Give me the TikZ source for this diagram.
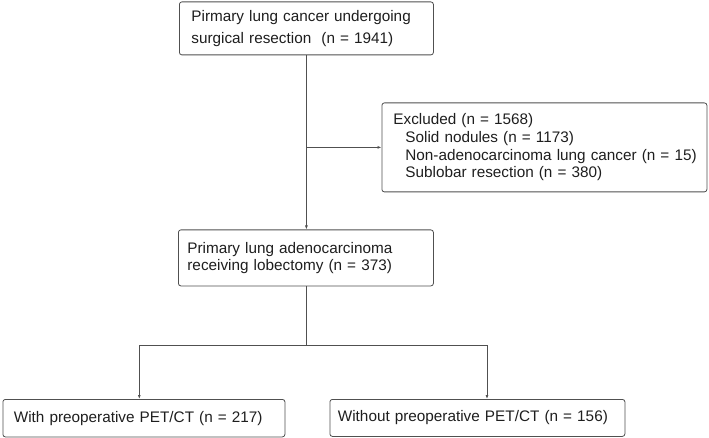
\documentclass[tikz,border=0pt]{standalone}
\usepackage{fontspec}
\setmainfont{Liberation Sans}
\usetikzlibrary{arrows.meta}
\definecolor{linegray}{HTML}{505050}
\definecolor{textgray}{HTML}{1E1E1E}

\begin{document}
\begin{tikzpicture}[x=1pt, y=-1pt]
	\tikzstyle{box} = [ draw=linegray, line width=0.8pt, rounded corners=2.5pt, anchor=north west, align=left, inner ysep=0pt, text=textgray, font={\fontsize{15.3}{17.6}\selectfont} ];
	\tikzstyle{point} = [ ->, >={Latex[length=4pt, width=3pt]}, draw=linegray, line width=0.8pt ];
	\tikzstyle{link} = [ draw=linegray, line width=0.8pt ];

	\useasboundingbox (0,0) rectangle (709,438);

	\def \ind {\hspace*{12pt}}

	% boxes
	\node[box, inner xsep=12pt, text width=230pt, minimum height=53pt] (surgery) at (179,1.5) {Pirmary lung cancer undergoing\\[4.4pt]surgical resection\ \ (n = 1941)};
	\node[box, inner xsep=11.5pt, text width=302pt, minimum height=89pt] (excluded) at (381.5,102.5) {Excluded (n = 1568)\\\ind\mbox{Solid nodules (n = 1173)}\\\ind\mbox{Non-adenocarcinoma lung cancer (n = 15)}\\\ind\mbox{Sublobar resection (n = 380)}};
	\node[box, inner xsep=9pt, text width=237pt, minimum height=56pt] (lobectomy) at (178,229.5) {Primary lung adenocarcinoma\\receiving lobectomy (n = 373)};
	\node[box, inner xsep=11pt, text width=260pt, minimum height=37.5pt] (withpet) at (2.5,399) {With preoperative PET/CT (n = 217)};
	\node[box, inner xsep=8pt, text width=279pt, minimum height=37pt] (withoutpet) at (329.5,399) {Without preoperative PET/CT (n = 156)};

	% split points
	\coordinate (splitL) at (139.3,345);
	\coordinate (splitR) at (487,345);

	% connectors
	\draw[point] (surgery.south) -- (surgery.south |- lobectomy.north);
	\draw[point] (surgery.south |- excluded.west) -- (excluded.west);
	\draw[link] (lobectomy.south) -- (lobectomy.south |- splitL);
	\draw[link] (splitL) -- (splitR);
	\draw[point] (splitL) -- (splitL |- withpet.north);
	\draw[point] (splitR) -- (splitR |- withoutpet.north);
\end{tikzpicture}
\end{document}
